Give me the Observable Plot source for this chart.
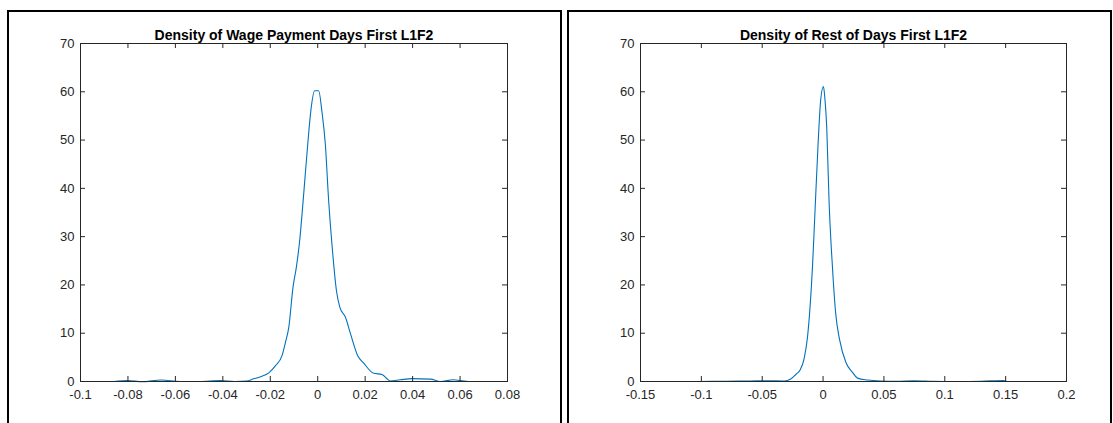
<!DOCTYPE html>
<html>
<head>
<meta charset="utf-8">
<script src="https://cdn.jsdelivr.net/npm/d3@7"></script>
<script src="https://cdn.jsdelivr.net/npm/@observablehq/plot@0.6"></script>
<style>
  html, body { margin: 0; padding: 0; background: #fff; overflow: hidden; }
  #fig { position: relative; width: 1113px; height: 423px; background: #fff; }
  .panel { position: absolute; top: 0; }
  .panel svg { background: transparent !important; }
  .box { position: absolute; top: 10px; height: 440px; box-sizing: border-box;
         border: 2px solid #000; border-bottom: none; pointer-events: none; }
</style>
</head>
<body>
<div id="fig">
  <div class="panel" id="left" style="left:0px"></div>
  <div class="panel" id="right" style="left:560px"></div>
  <div class="box" style="left:7px; width:555px"></div>
  <div class="box" style="left:567px; width:545px"></div>
</div>
<script>
// Panel titles
const titleWage = "Density of Wage Payment Days First L1F2";
const titleRest = "Density of Rest of Days First L1F2";

// Kernel density estimate, wage payment days
const wageX = [-0.0859, -0.080, -0.074, -0.066, -0.058, -0.050, -0.041, -0.035, -0.030, -0.027,
  -0.0241, -0.0206, -0.0178, -0.015, -0.0136, -0.0122, -0.0104, -0.009, -0.0076, -0.0059,
  -0.0042, -0.0028, -0.0013, 0.0004, 0.0018, 0.0032, 0.0046, 0.0061, 0.0079, 0.0093,
  0.0117, 0.0138, 0.0168, 0.0194, 0.0236, 0.0271, 0.0306, 0.0348, 0.0397, 0.0475,
  0.0517, 0.0573, 0.060, 0.0636];
const wageY = [0, 0.2, -0.05, 0.3, 0, 0, 0.2, 0, 0.1, 0.55,
  1.0, 1.8, 3.3, 5.4, 8.1, 11.2, 19.6, 23.7, 29.2, 38.9,
  49.2, 56.5, 60.2, 60.2, 55.8, 49.2, 37.5, 27.8, 18.8, 15.4,
  13.3, 9.9, 5.4, 3.8, 1.7, 1.45, 0.1, 0.35, 0.6, 0.5,
  0.0, 0.35, 0.2, 0];

// Kernel density estimate, rest of days
const restX = [-0.102, -0.080, -0.060, -0.045, -0.032, -0.0266, -0.0224, -0.0189, -0.0156, -0.0128,
  -0.0107, -0.0087, -0.0066, -0.0041, -0.0019, 0.0003, 0.0014, 0.003, 0.0049, 0.0077,
  0.0104, 0.0137, 0.0187, 0.0242, 0.0283, 0.0365, 0.0475, 0.060, 0.075, 0.090,
  0.110, 0.130, 0.148, 0.151];
const restY = [0, 0.05, 0.1, 0.15, 0.1, 0.5, 1.45, 2.4, 4.7, 9.2,
  15.4, 23.7, 35.4, 49.2, 58.5, 61.1, 58.9, 52.7, 37.5, 23.7,
  14.0, 8.5, 4.0, 1.9, 0.7, 0.3, 0.1, 0.05, 0.15, 0.05,
  0, 0.05, 0.2, 0];

// Axis ticks and their labels
const wageTicks = [-0.1, -0.08, -0.06, -0.04, -0.02, 0, 0.02, 0.04, 0.06, 0.08];
const wageTickLabels = ["-0.1", "-0.08", "-0.06", "-0.04", "-0.02", "0", "0.02", "0.04", "0.06", "0.08"];
const restTicks = [-0.15, -0.1, -0.05, 0, 0.05, 0.1, 0.15, 0.2];
const restTickLabels = ["-0.15", "-0.1", "-0.05", "0", "0.05", "0.1", "0.15", "0.2"];
const yTicks = [0, 10, 20, 30, 40, 50, 60, 70];
const yTickLabels = ["0", "10", "20", "30", "40", "50", "60", "70"];

const axisColor = "#262626";
const lineColor = "#0072BD";
const font = "'Liberation Sans', Arial, Helvetica, sans-serif";
const tickFontSize = 13;

function densityPanel({title, xs, ys, xTicks, xLabels, width, marginRight}) {
  const data = xs.map((x, i) => ({x, y: ys[i]}));
  const xDomain = [xTicks[0], xTicks[xTicks.length - 1]];
  const yDomain = [yTicks[0], yTicks[yTicks.length - 1]];
  const height = 423, marginLeft = 80, marginTop = 43, marginBottom = 42;
  // tick length of ~5px, expressed in each scale's units
  const xTickLen = 5 * (xDomain[1] - xDomain[0]) / (width - marginLeft - marginRight);
  const yTickLen = 5 * (yDomain[1] - yDomain[0]) / (height - marginTop - marginBottom);
  const xInner = xTicks.slice(1, -1);
  const yInner = yTicks.slice(1, -1);
  return Plot.plot({
    width, height, marginLeft, marginRight, marginTop, marginBottom,
    style: {fontFamily: font, color: axisColor, background: "transparent"},
    x: {domain: xDomain, axis: null},
    y: {domain: yDomain, axis: null},
    marks: [
      Plot.line(data, {x: "x", y: "y", stroke: lineColor, strokeWidth: 1.1, curve: "monotone-x"}),
      // inward tick marks on all four sides
      Plot.ruleX(xInner, {x: d => d, y1: yDomain[0], y2: yDomain[0] + yTickLen, stroke: axisColor}),
      Plot.ruleX(xInner, {x: d => d, y1: yDomain[1], y2: yDomain[1] - yTickLen, stroke: axisColor}),
      Plot.ruleY(yInner, {y: d => d, x1: xDomain[0], x2: xDomain[0] + xTickLen, stroke: axisColor}),
      Plot.ruleY(yInner, {y: d => d, x1: xDomain[1], x2: xDomain[1] - xTickLen, stroke: axisColor}),
      Plot.frame({stroke: axisColor}),
      // tick labels below the x axis and left of the y axis
      Plot.text(xTicks, {x: d => d, y: yDomain[0], text: (d, i) => xLabels[i],
        dy: 8, lineAnchor: "top", fontSize: tickFontSize, fill: axisColor}),
      Plot.text(yTicks, {x: xDomain[0], y: d => d, text: (d, i) => yTickLabels[i],
        dx: -6, textAnchor: "end", fontSize: tickFontSize, fill: axisColor}),
      Plot.text([title], {frameAnchor: "top", dy: -4, lineAnchor: "bottom",
        text: d => d, fontWeight: "bold", fontSize: 14, fill: "#000"})
    ]
  });
}

document.getElementById("left").append(densityPanel({
  title: titleWage, xs: wageX, ys: wageY, xTicks: wageTicks, xLabels: wageTickLabels,
  width: 560, marginRight: 53
}));
document.getElementById("right").append(densityPanel({
  title: titleRest, xs: restX, ys: restY, xTicks: restTicks, xLabels: restTickLabels,
  width: 553, marginRight: 47
}));
</script>
</body>
</html>
